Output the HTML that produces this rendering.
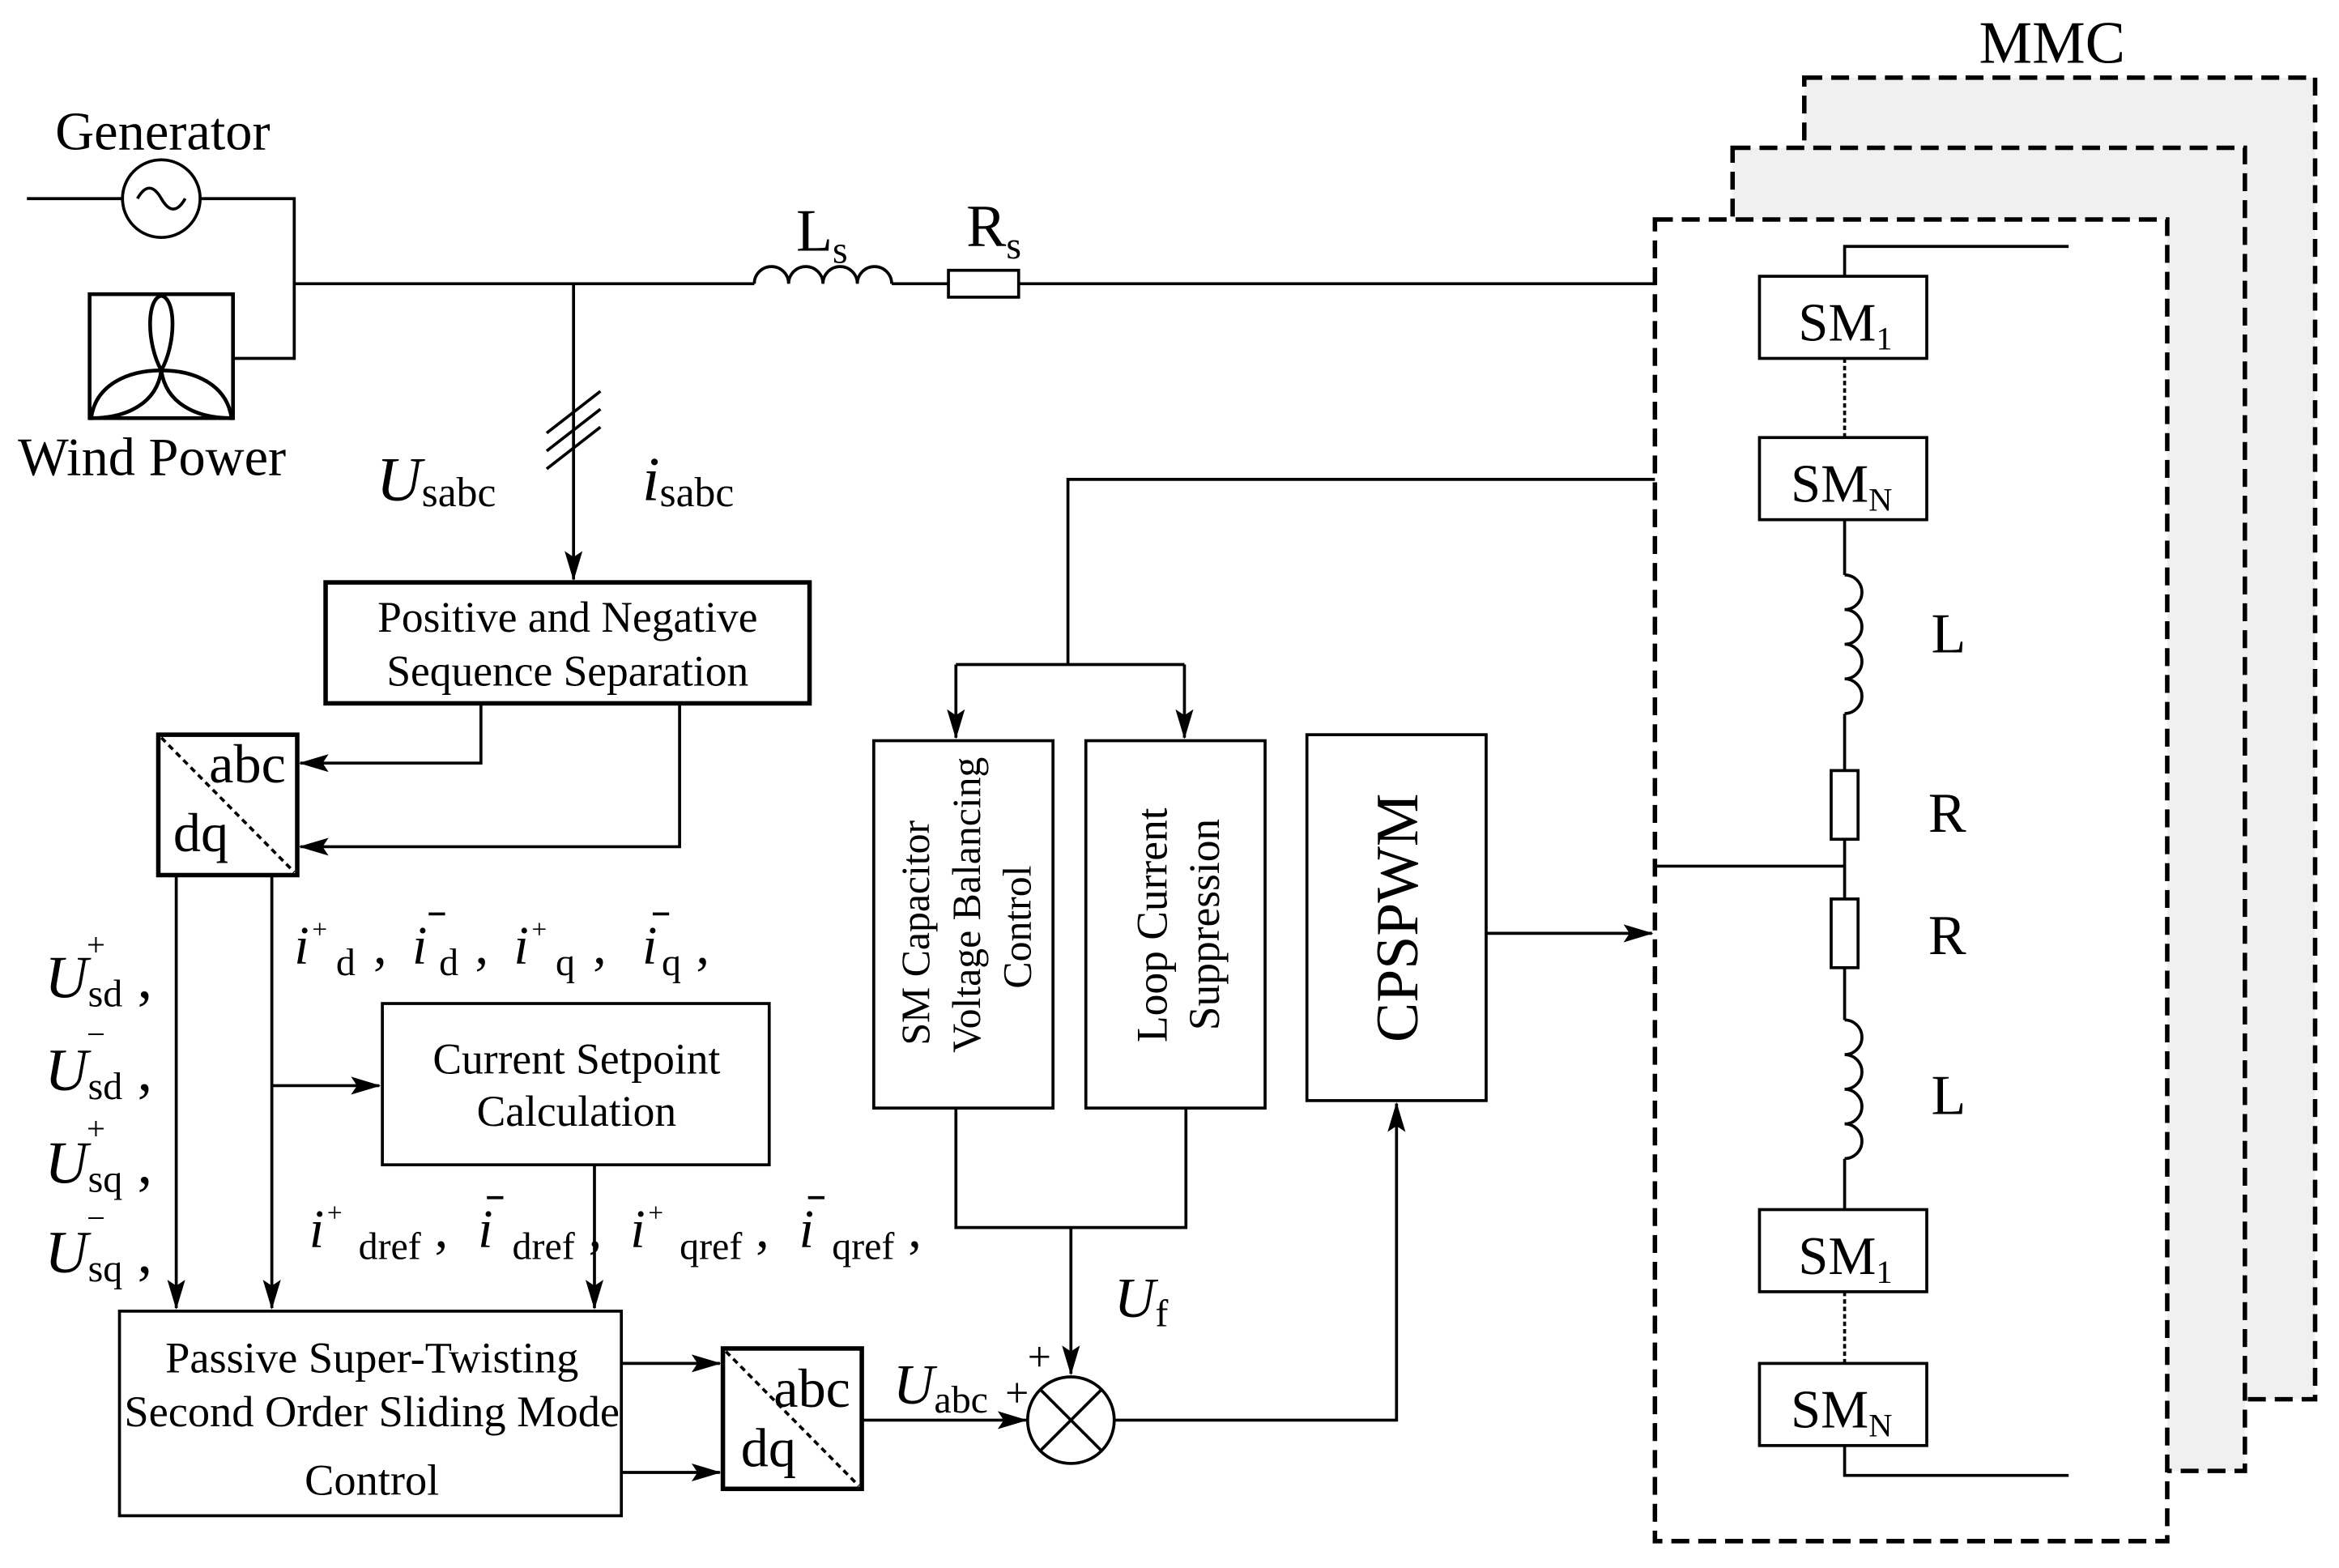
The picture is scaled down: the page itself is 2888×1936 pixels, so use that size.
<!DOCTYPE html>
<html><head><meta charset="utf-8"><style>
html,body{margin:0;padding:0;background:#fff}
svg{display:block}
text{font-family:"Liberation Serif",serif;fill:#000}
.i{font-style:italic}
</style></head><body>
<svg width="2888" height="1936" viewBox="0 0 1566 1050" preserveAspectRatio="none" xmlns="http://www.w3.org/2000/svg">
<defs>
<marker id="b" markerWidth="20" markerHeight="14" refX="19" refY="7" orient="auto" markerUnits="userSpaceOnUse"><path d="M0,1 L20,7 L0,13 L4,7 Z" fill="#000"/></marker></defs>
<g stroke="#000" fill="none" stroke-width="2">
<rect x="1208" y="52" width="342" height="885" fill="#f0f0f0" stroke-dasharray="12,6" stroke-width="3"/>
<rect x="1160" y="99" width="343" height="886" fill="#f0f0f0" stroke-dasharray="12,6" stroke-width="3"/>
<rect x="1108" y="147" width="343" height="885" fill="#fff" stroke-dasharray="12,6" stroke-width="3"/>
<line x1="18" y1="133" x2="82" y2="133"/><circle cx="108" cy="133" r="26"/>
<path d="M92,133 q8,-14 16,0 q8,14 16,0"/>
<polyline points="134,133 197,133 197,240 156,240"/>
<rect x="60" y="197" width="96" height="83" stroke-width="2.5"/>
<path d="M108,248 C98,230 98,200 108,198 C118,200 118,230 108,248 Z" stroke-width="2.5"/>
<path d="M108,248 C85,248 64,258 61,280 C85,280 105,270 108,248 Z" stroke-width="2.5"/>
<path d="M108,248 C131,248 152,258 155,280 C131,280 111,270 108,248 Z" stroke-width="2.5"/>
<line x1="197" y1="190" x2="505" y2="190"/>
<path d="M505,190 a11.5,11.5 0 0 1 23,0 a11.5,11.5 0 0 1 23,0 a11.5,11.5 0 0 1 23,0 a11.5,11.5 0 0 1 23,0"/>
<line x1="597" y1="190" x2="635" y2="190"/><rect x="635" y="181" width="47" height="18"/>
<line x1="682" y1="190" x2="1108" y2="190"/>
<line x1="384" y1="190" x2="384" y2="388" marker-end="url(#b)"/>
<line x1="366" y1="290" x2="402" y2="262"/><line x1="366" y1="302" x2="402" y2="274"/><line x1="366" y1="314" x2="402" y2="286"/>
<rect x="218" y="390" width="324" height="81" stroke-width="3"/>
<rect x="106" y="492" width="93" height="94" stroke-width="3"/>
<line x1="108" y1="494" x2="197" y2="584" stroke-dasharray="4,3"/>
<polyline points="322,471 322,511 201,511" marker-end="url(#b)"/>
<polyline points="455,471 455,567 201,567" marker-end="url(#b)"/>
<line x1="118" y1="586" x2="118" y2="876" marker-end="url(#b)"/>
<line x1="182" y1="586" x2="182" y2="876" marker-end="url(#b)"/>
<line x1="182" y1="727" x2="254" y2="727" marker-end="url(#b)"/>
<rect x="256" y="672" width="259" height="108"/>
<line x1="398" y1="780" x2="398" y2="876" marker-end="url(#b)"/>
<rect x="80" y="878" width="336" height="137"/>
<line x1="416" y1="913" x2="482" y2="913" marker-end="url(#b)"/>
<line x1="416" y1="986" x2="482" y2="986" marker-end="url(#b)"/>
<rect x="484" y="903" width="93" height="94" stroke-width="3"/>
<line x1="486" y1="905" x2="575" y2="995" stroke-dasharray="4,3"/>
<line x1="577" y1="951" x2="687" y2="951" marker-end="url(#b)"/>
<circle cx="717" cy="951" r="29"/>
<line x1="697" y1="931" x2="737" y2="971"/><line x1="737" y1="931" x2="697" y2="971"/>
<polyline points="640,742 640,822 794,822 794,742"/>
<line x1="717" y1="822" x2="717" y2="920" marker-end="url(#b)"/>
<polyline points="746,951 935,951 935,739" marker-end="url(#b)"/>
<rect x="585" y="496" width="120" height="246"/>
<rect x="727" y="496" width="120" height="246"/>
<rect x="875" y="492" width="120" height="245"/>
<polyline points="1108,321 715,321 715,445"/>
<line x1="640" y1="445" x2="793" y2="445"/>
<line x1="640" y1="445" x2="640" y2="494" marker-end="url(#b)"/>
<line x1="793" y1="445" x2="793" y2="494" marker-end="url(#b)"/>
<line x1="995" y1="625" x2="1106" y2="625" marker-end="url(#b)"/>
<polyline points="1385,165 1235,165 1235,185"/>
<rect x="1178" y="185" width="112" height="55"/>
<line x1="1235" y1="240" x2="1235" y2="293" stroke-dasharray="3,2"/>
<rect x="1178" y="293" width="112" height="55"/>
<line x1="1235" y1="348" x2="1235" y2="385"/>
<path d="M1235,385 a11.6,11.6 0 0 1 0,23.2 a11.6,11.6 0 0 1 0,23.2 a11.6,11.6 0 0 1 0,23.2 a11.6,11.6 0 0 1 0,23.2"/>
<line x1="1235" y1="478" x2="1235" y2="516"/><rect x="1226" y="516" width="18" height="46"/>
<line x1="1235" y1="562" x2="1235" y2="602"/><rect x="1226" y="602" width="18" height="46"/>
<line x1="1235" y1="648" x2="1235" y2="683"/>
<path d="M1235,683 a11.6,11.6 0 0 1 0,23.2 a11.6,11.6 0 0 1 0,23.2 a11.6,11.6 0 0 1 0,23.2 a11.6,11.6 0 0 1 0,23.2"/>
<line x1="1235" y1="776" x2="1235" y2="810"/>
<line x1="1108" y1="580" x2="1235" y2="580"/>
<rect x="1178" y="810" width="112" height="55"/>
<line x1="1235" y1="865" x2="1235" y2="913" stroke-dasharray="3,2"/>
<rect x="1178" y="913" width="112" height="55"/>
<polyline points="1235,968 1235,988 1385,988"/>
</g>
<g font-size="32">
<text x="37" y="100" font-size="36">Generator</text>
<text x="12" y="318" font-size="36">Wind Power</text>
<text x="1325" y="42" font-size="40">MMC</text>
<text x="533" y="168" font-size="40">L<tspan font-size="26" dy="8">s</tspan></text>
<text x="647" y="165" font-size="40">R<tspan font-size="26" dy="8">s</tspan></text>
<text x="252" y="335" class="i" font-size="42">U<tspan font-style="normal" font-size="28" dy="4">sabc</tspan></text>
<text x="430" y="335" class="i" font-size="42">i<tspan font-style="normal" font-size="28" dy="4">sabc</tspan></text>
<text x="380" y="423" font-size="29" text-anchor="middle">Positive and Negative</text>
<text x="380" y="459" font-size="29" text-anchor="middle">Sequence Separation</text>
<text x="140" y="524" font-size="37">abc</text><text x="116" y="570" font-size="37">dq</text>
<text x="518" y="942" font-size="37">abc</text><text x="496" y="982" font-size="37">dq</text>
<text x="386" y="719" font-size="29" text-anchor="middle">Current Setpoint</text>
<text x="386" y="754" font-size="29" text-anchor="middle">Calculation</text>
<text x="249" y="919" font-size="29.5" text-anchor="middle">Passive Super-Twisting</text>
<text x="249" y="955" font-size="29.5" text-anchor="middle">Second Order Sliding Mode</text>
<text x="249" y="1001" font-size="29.5" text-anchor="middle">Control</text>
<text x="1204" y="228" font-size="36">SM<tspan font-size="22" dy="6">1</tspan></text>
<text x="1199" y="336" font-size="36">SM<tspan font-size="22" dy="6">N</tspan></text>
<text x="1204" y="853" font-size="36">SM<tspan font-size="22" dy="6">1</tspan></text>
<text x="1199" y="956" font-size="36">SM<tspan font-size="22" dy="6">N</tspan></text>
<text x="1293" y="437" font-size="38">L</text><text x="1291" y="557" font-size="38">R</text>
<text x="1291" y="639" font-size="38">R</text><text x="1293" y="746" font-size="38">L</text>
<text class="i" font-size="40" x="30" y="668">U<tspan font-style="normal" font-size="26" dy="6">sd</tspan><tspan font-style="normal" dy="-6"> ,</tspan></text>
<text class="i" font-size="40" x="30" y="730">U<tspan font-style="normal" font-size="26" dy="6">sd</tspan><tspan font-style="normal" dy="-6"> ,</tspan></text>
<text class="i" font-size="40" x="30" y="792">U<tspan font-style="normal" font-size="26" dy="6">sq</tspan><tspan font-style="normal" dy="-6"> ,</tspan></text>
<text class="i" font-size="40" x="30" y="852">U<tspan font-style="normal" font-size="26" dy="6">sq</tspan><tspan font-style="normal" dy="-6"> ,</tspan></text>
<text font-size="22" x="58" y="640">+</text><text font-size="22" x="58" y="700">−</text>
<text font-size="22" x="58" y="763">+</text><text font-size="22" x="58" y="823">−</text>
<g font-size="36">
<text class="i" x="197" y="645">i</text><text x="209" y="628" font-size="18">+</text><text x="225" y="653" font-size="26">d</text><text x="250" y="645">,</text>
<text class="i" x="276" y="645">i</text><text x="294" y="653" font-size="26">d</text><text x="318" y="645">,</text>
<text class="i" x="344" y="645">i</text><text x="356" y="628" font-size="18">+</text><text x="372" y="653" font-size="26">q</text><text x="397" y="645">,</text>
<text class="i" x="430" y="645">i</text><text x="443" y="653" font-size="26">q</text><text x="466" y="645">,</text>
<text class="i" x="207" y="835">i</text><text x="219" y="818" font-size="18">+</text><text x="240" y="843" font-size="26">dref</text><text x="291" y="835">,</text>
<text class="i" x="320" y="835">i</text><text x="343" y="843" font-size="26">dref</text><text x="394" y="835">,</text>
<text class="i" x="422" y="835">i</text><text x="434" y="818" font-size="18">+</text><text x="455" y="843" font-size="26">qref</text><text x="506" y="835">,</text>
<text class="i" x="535" y="835">i</text><text x="557" y="843" font-size="26">qref</text><text x="608" y="835">,</text>
</g>
<text class="i" font-size="38" x="598" y="940">U<tspan font-style="normal" font-size="26" dy="6">abc</tspan></text>
<text font-size="28" x="673" y="942">+</text><text font-size="28" x="688" y="918">+</text>
<text class="i" font-size="38" x="746" y="882">U<tspan font-style="normal" font-size="26" dy="6">f</tspan></text>
<text font-size="27" transform="translate(622,700) rotate(-90)">SM Capacitor</text>
<text font-size="27" transform="translate(656,705) rotate(-90)">Voltage Balancing</text>
<text font-size="27" transform="translate(690,662) rotate(-90)">Control</text>
<text font-size="29" transform="translate(781,698) rotate(-90)">Loop Current</text>
<text font-size="29" transform="translate(816,690) rotate(-90)">Suppression</text>
<text font-size="40" transform="translate(949,698) rotate(-90)">CPSPWM</text>
</g>
<g stroke="#000" stroke-width="2">
<line x1="287" y1="612" x2="298" y2="612"/><line x1="437" y1="612" x2="448" y2="612"/>
<line x1="326" y1="802" x2="337" y2="802"/><line x1="541" y1="802" x2="552" y2="802"/>
</g>
</svg>
</body></html>
